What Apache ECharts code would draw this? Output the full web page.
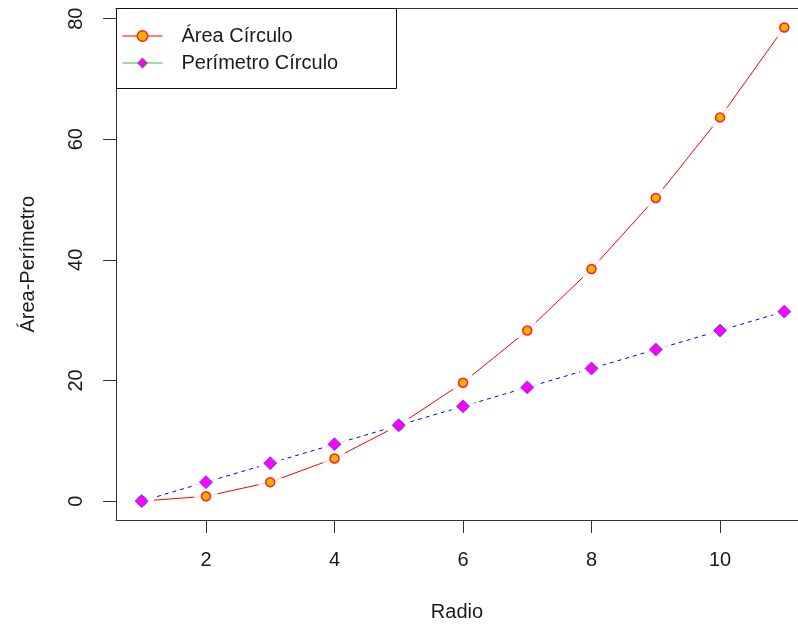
<!DOCTYPE html>
<html>
<head>
<meta charset="utf-8">
<script src="https://cdn.jsdelivr.net/npm/echarts@6/dist/echarts.min.js"></script>
<style>
  html, body { margin: 0; padding: 0; background: #fff; }
  #chart { width: 798px; height: 627px; }
</style>
</head>
<body>
<div id="chart"></div>
<script>
// Radius values and the two measured quantities
const radio = [1, 2, 3, 4, 5, 6, 7, 8, 9, 10, 11];
const area = [0, 0.79, 3.14, 7.07, 12.57, 19.63, 28.27, 38.48, 50.27, 63.62, 78.54];
const perimetro = [0, 3.14, 6.28, 9.42, 12.57, 15.71, 18.85, 21.99, 25.13, 28.27, 31.42];
const xTicks = [2, 4, 6, 8, 10];
const yTicks = [0, 20, 40, 60, 80];

const FONT = 'Liberation Sans, Arial, sans-serif';
const TXT = '#1a1a1a';
const FRAME = '#333';

const areaPts = radio.map((r, i) => [r, area[i]]);
const perimPts = radio.map((r, i) => [r, perimetro[i]]);

const chart = echarts.init(document.getElementById('chart'), null, { renderer: 'canvas' });

chart.setOption({
  animation: false,
  backgroundColor: '#ffffff',
  textStyle: { fontFamily: FONT },
  grid: { left: 116, top: 8.5, right: 0, bottom: 105.5, show: false },
  xAxis: [
    {
      type: 'value', min: 0.6, max: 11.213, position: 'bottom',
      name: 'Radio', nameLocation: 'middle', nameGap: 82,
      nameTextStyle: { fontSize: 20, color: TXT, fontFamily: FONT },
      axisLine: { show: true, onZero: false, lineStyle: { color: FRAME, width: 1 } },
      axisTick: { show: true, inside: false, length: 13, lineStyle: { color: FRAME }, customValues: xTicks },
      axisLabel: { fontSize: 20, color: TXT, margin: 30, fontFamily: FONT, customValues: xTicks },
      splitLine: { show: false }
    },
    {
      // top edge of the frame
      type: 'value', min: 0.6, max: 11.213, position: 'top',
      axisLine: { show: true, onZero: false, lineStyle: { color: FRAME, width: 1 } },
      axisTick: { show: false }, axisLabel: { show: false }, splitLine: { show: false }
    }
  ],
  yAxis: {
    type: 'value', min: -3.14, max: 81.68,
    name: 'Área-Perímetro', nameLocation: 'middle', nameGap: 78, nameRotate: 90,
    nameTextStyle: { fontSize: 20, color: TXT, fontFamily: FONT },
    axisLine: { show: true, onZero: false, lineStyle: { color: FRAME, width: 1 } },
    axisTick: { show: true, inside: false, length: 13, lineStyle: { color: FRAME }, customValues: yTicks },
    axisLabel: { fontSize: 20, color: TXT, margin: 30, rotate: 90, fontFamily: FONT, customValues: yTicks },
    splitLine: { show: false }
  },
  legend: {
    orient: 'vertical', left: 122, top: 26,
    itemWidth: 40, itemHeight: 13, itemGap: 7,
    padding: 0,
    textStyle: { fontSize: 20, color: TXT, fontFamily: FONT, padding: [0, 0, 0, 14] },
    data: [
      {
        name: 'Área Círculo',
        lineStyle: { color: '#ff0000', width: 1 },
        itemStyle: { color: '#ffb000', borderColor: '#ff2020', borderWidth: 1.5 }
      },
      {
        name: 'Perímetro Círculo',
        lineStyle: { color: '#33cc33', type: 'solid', width: 1 },
        itemStyle: { color: '#ff00ff', borderColor: '#33cc33', borderWidth: 1 }
      }
    ]
  },
  graphic: [{
    type: 'rect', z: 3,
    shape: { x: 116.5, y: 8.5, width: 280, height: 80 },
    style: { fill: '#ffffff', stroke: '#111', lineWidth: 1 }
  }],
  series: [
    // connecting lines
    {
      name: 'Área Círculo', type: 'line', data: areaPts,
      symbol: 'circle', showSymbol: false,
      lineStyle: { color: '#ff0000', width: 1 },
      itemStyle: { color: '#ffb000' },
      z: 1
    },
    {
      name: 'Perímetro Círculo', type: 'line', data: perimPts,
      symbol: 'diamond', showSymbol: false,
      lineStyle: { color: '#0000ff', width: 1, type: [4, 4] },
      itemStyle: { color: '#ff00ff' },
      z: 1
    },
    // white gaps where the lines meet the points
    {
      name: 'gap-area', type: 'scatter', data: areaPts, silent: true,
      symbol: 'circle', symbolSize: 24, itemStyle: { color: '#ffffff' }, z: 2
    },
    {
      name: 'gap-perim', type: 'scatter', data: perimPts, silent: true,
      symbol: 'circle', symbolSize: 24, itemStyle: { color: '#ffffff' }, z: 2
    },
    // point markers
    {
      name: 'pts-area', type: 'scatter', data: areaPts,
      symbol: 'circle', symbolSize: 9,
      itemStyle: { color: '#ffb000', borderColor: '#ff2020', borderWidth: 1.5, opacity: 1 },
      z: 3
    },
    {
      name: 'pts-perim', type: 'scatter', data: perimPts,
      symbol: 'diamond', symbolSize: 13,
      itemStyle: { color: '#ff00ff', borderColor: '#5050ff', borderWidth: 1, opacity: 1 },
      z: 3
    }
  ]
});
</script>
</body>
</html>
